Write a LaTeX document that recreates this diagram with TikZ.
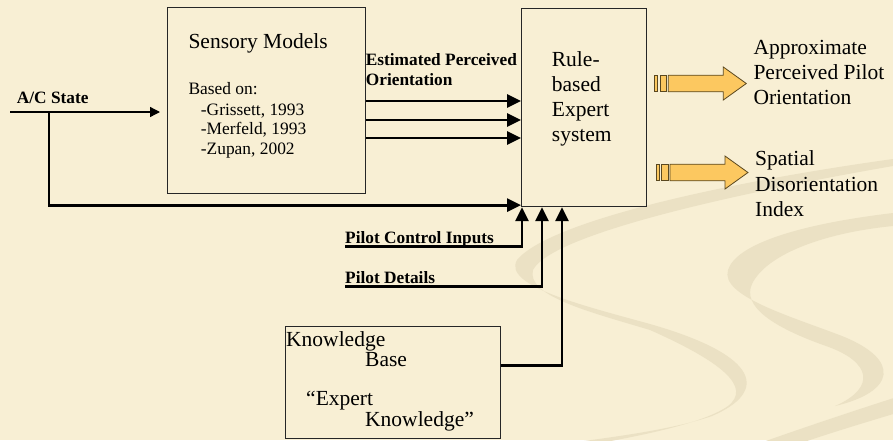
\documentclass[tikz,border=0pt]{standalone}
\usepackage{fontspec}
\setmainfont{Liberation Serif}
\usetikzlibrary{arrows.meta}

\definecolor{slidebg}{HTML}{F8EFD4}
\definecolor{swirl}{HTML}{EBE1C4}
\definecolor{arrowgold}{HTML}{FCC860}
\definecolor{arrowedge}{HTML}{5A4820}

\tikzset{
	box/.style={draw=black!85, line width=1.1pt, inner sep=0pt, anchor=north west},
	bigtxt/.style={font=\fontsize{21.5}{25}\selectfont, inner sep=0pt, anchor=base west},
	smalltxt/.style={font=\fontsize{17.4}{20}\selectfont, inner sep=0pt, anchor=base west},
	labeltxt/.style={font=\bfseries\fontsize{17.3}{20}\selectfont, inner sep=0pt, anchor=base west},
	flow/.style={line width=2.8pt, -{Triangle[length=14pt,width=13pt]}},
	feed/.style={line width=1.3pt, -{Triangle[length=10pt,width=10pt]}},
	fatarrow/.style={fill=arrowgold, draw=arrowedge, line width=.8pt, line join=miter},
}

\begin{document}
\begin{tikzpicture}[x=1pt, y=-1pt]
				\useasboundingbox (0,0) rectangle (893,440);
				\fill[slidebg] (0,0) rectangle (893,440);
				% background swirls
				\fill[swirl] (893,159) .. controls (720,183) and (548,222) .. (517,260)
					.. controls (502,286) and (585,306) .. (650,324)
					.. controls (762,356) and (768,392) .. (712,416)
					.. controls (660,434) and (570,442) .. (500,452)
					-- (548,452) .. controls (620,440) and (700,426) .. (728,406)
					.. controls (752,387) and (722,362) .. (650,330)
					.. controls (590,312) and (526,296) .. (533,270)
					.. controls (550,236) and (720,196) .. (893,166) -- cycle;
				\fill[swirl] (893,213) .. controls (800,224) and (736,244) .. (728,270)
					.. controls (720,296) and (790,316) .. (842,336)
					.. controls (902,360) and (895,392) .. (835,406)
					.. controls (876,388) and (872,362) .. (826,346)
					.. controls (772,327) and (742,306) .. (752,284)
					.. controls (766,255) and (822,233) .. (893,226) -- cycle;
				\fill[swirl] (735,452) .. controls (790,432) and (850,412) .. (900,396)
					-- (900,412) .. controls (860,424) and (820,436) .. (775,452) -- cycle;
				% blocks
				\node[box, minimum width=198pt, minimum height=186pt] (sens) at (167,7) {};
				\node[box, minimum width=125pt, minimum height=198pt] (rule) at (521,8) {};
				\node[box, minimum width=215pt, minimum height=112pt] (kb) at (285,326) {};
				\node[bigtxt] (senstitle) at (188.3,48.3) {Sensory Models};
				\node[smalltxt] (basedon) at (188.3,94.3) {Based on:};
				\foreach \t [count=\i] in {{-Grissett, 1993},{-Merfeld, 1993},{-Zupan, 2002}}
					\node[smalltxt] (ref\i) at (200.7,95.3+19.7*\i) {\t};
				\foreach \t [count=\i] in {Rule-,based,Expert,system}
					\node[bigtxt] (rule\i) at (551.7,41.7+25*\i) {\t};
				\node[bigtxt] (kb1) at (286,346) {Knowledge};
				\node[bigtxt] (kb2) at (365,366) {Base};
				\node[bigtxt] (kb3) at (306,405) {“Expert};
				\node[bigtxt] (kb4) at (365,426) {Knowledge”};
				% outputs
				\foreach \t [count=\i] in {Approximate,Perceived Pilot,Orientation}
					\node[bigtxt] (outa\i) at (753.3,29+25.2*\i) {\t};
				\foreach \t [count=\i] in {Spatial,Disorientation,Index}
					\node[bigtxt] (outb\i) at (755,140+25.6*\i) {\t};
				\foreach \x/\y in {654.3/83.5, 656/172.5} {
					\draw[fatarrow] (\x,\y-8.3) rectangle ++(3,16.6);
					\draw[fatarrow] (\x+5.7,\y-8.3) rectangle ++(6.7,16.6);
					\draw[fatarrow] (\x+14,\y-8.3) -- ++(55,0) -- ++(0,-8.2) -- (\x+92,\y)
						-- (\x+69,\y+16.5) -- ++(0,-8.2) -- (\x+14,\y+8.3) -- cycle;
				}
				% signal labels
				\node[labeltxt] (aclabel) at (16.7,103.3) {A/C State};
				\node[labeltxt] (est1) at (365.7,65) {Estimated Perceived};
				\node[labeltxt] (est2) at (365.7,85) {Orientation};
				\node[labeltxt] (pci) at (345,243.3) {Pilot Control Inputs};
				\node[labeltxt] (pd) at (345,283.3) {Pilot Details};
				% signal lines
				\coordinate (acin) at (10,112);
				\coordinate (acsplit) at (49,112);
				\draw[feed, shorten >=7pt] (acin) -- (sens.west |- acin);
				\draw[flow] (acsplit) |- ([yshift=2pt]rule.south west);
				\foreach \y in {101,120,138}
					\draw[flow] (sens.east |- 0,\y) -- (rule.west |- 0,\y);
				\draw[flow] ([yshift=-3pt]pci.base west) -| ([xshift=1pt]rule.south west);
				\draw[flow] ([yshift=-3pt]pd.base west) -| ([xshift=21pt]rule.south west);
				\draw[flow] ([yshift=17pt]kb.east) -| ([xshift=41pt]rule.south west);
\end{tikzpicture}
\end{document}
